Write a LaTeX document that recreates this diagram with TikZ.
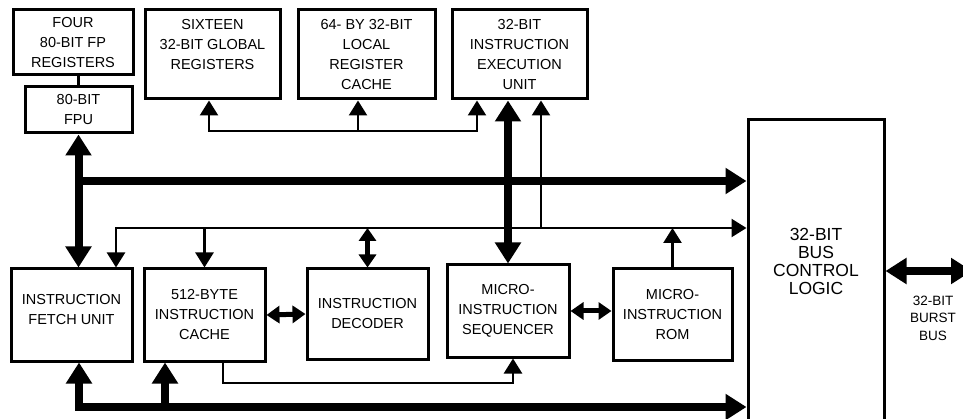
\documentclass[tikz,border=0pt]{standalone}
\usepackage{fontspec}
\setmainfont{Liberation Sans}
\usetikzlibrary{arrows.meta}

\begin{document}
\begin{tikzpicture}[x=1pt,y=-1pt,
   blk/.style={draw,line width=3pt,align=center,inner sep=0pt,
     font=\fontsize{14.5}{20}\selectfont},
   wire/.style={line width=2.5pt,>={Triangle[length=15pt,width=18pt]}},
   link/.style={line width=5pt,>={Triangle[length=13pt,width=17pt]}},
   bus/.style={line width=8pt,>={Triangle[length=21pt,width=25pt]}}]
\useasboundingbox (0,0) rectangle (963,419);
\clip (0,0) rectangle (963,419);
% top row
\node (fpregs) [blk,minimum width=120,minimum height=65] at (73,42.5) {FOUR\\80-BIT FP\\REGISTERS};
\node (fpu) [blk,minimum width=107,minimum height=46] at (78.5,110) {80-BIT\\FPU};
\node (globreg) [blk,minimum width=135,minimum height=89] at (212.5,54.5) {SIXTEEN\\32-BIT GLOBAL\\REGISTERS\\\mbox{}};
\node (localreg) [blk,minimum width=137,minimum height=89] at (366.5,54.5) {64- BY 32-BIT\\LOCAL\\REGISTER\\CACHE};
\node (execunit) [blk,minimum width=135,minimum height=89] at (519.5,54.5) {32-BIT\\INSTRUCTION\\EXECUTION\\UNIT};
% bottom row
\node (fetch) [blk,minimum width=121,minimum height=92] at (71.5,315) {INSTRUCTION\\FETCH UNIT\\[-8pt]\mbox{}};
\node (icache) [blk,minimum width=121,minimum height=92] at (204.5,315) {512-BYTE\\INSTRUCTION\\CACHE};
\node (decoder) [blk,minimum width=121,minimum height=90] at (367.5,314) {INSTRUCTION\\DECODER};
\node (sequencer) [blk,minimum width=122,minimum height=92] at (508,311) {MICRO-\\INSTRUCTION\\SEQUENCER};
\node (rom) [blk,minimum width=119,minimum height=91] at (672.5,314.5) {MICRO-\\INSTRUCTION\\ROM};
\node (busctrl) [blk,minimum width=136,minimum height=330,anchor=north,
   label={[align=center,yshift=23pt,font=\fontsize{17.5}{18}\selectfont]center:32-BIT\\BUS\\CONTROL\\LOGIC}] at (816,118) {};
\node (burstlbl) [align=center,font=\fontsize{13.5}{17.5}\selectfont] at (933,318) {32-BIT\\BURST\\BUS};

\coordinate (fpbus) at (78.5,181);
\coordinate (ctl) at (116,228);
\coordinate (exectap) at (541,228);
\coordinate (rgl) at (209,131);
\coordinate (rgm) at (358,131);
\coordinate (rgr) at (477,131);
\coordinate (botl) at (79,407);
\coordinate (botc) at (165,407);
\coordinate (iq) at (223,383);
\coordinate (sq) at (513,383);
\coordinate (burst) at (972,271);

\draw[line width=3.5pt] (fpu.north) -- (fpu.north |- fpregs.south);
\draw[bus,<->] (fpu.south) -- (fetch.north -| fpu.south);
\draw[bus,->] (fpbus) -- (fpbus -| busctrl.west);
\draw[bus,<->] (sequencer.north) -- (sequencer.north |- execunit.south);
\draw[wire,<->] (globreg.south -| rgl) -- (rgl) -- (rgr) -- (execunit.south -| rgr);
\draw[wire,->] (rgm) -- (localreg.south -| rgm);
\draw[wire,<->] (fetch.north -| ctl) -- (ctl) -- (ctl -| busctrl.west);
\draw[wire,->] (icache.north |- ctl) -- (icache.north);
\draw[link,<->] (decoder.north |- ctl) -- (decoder.north);
\draw[wire,->] (exectap) -- (execunit.south -| exectap);
\draw[wire,->] (rom.north) -- (rom.north |- ctl);
\draw[link,<->] (icache.east) -- (decoder.west);
\draw[link,<->] (sequencer.east) -- (sequencer.east -| rom.west);
\draw[wire,->] (icache.south -| iq) -- (iq) -- (sq) -- (sequencer.south -| sq);
\draw[bus,<->] (fetch.south -| botl) -- (botl) -- (botl -| busctrl.west);
\draw[bus,->] (botc) -- (icache.south -| botc);
\draw[bus,<->] (busctrl.east |- burst) -- (burst);
\end{tikzpicture}
\end{document}
